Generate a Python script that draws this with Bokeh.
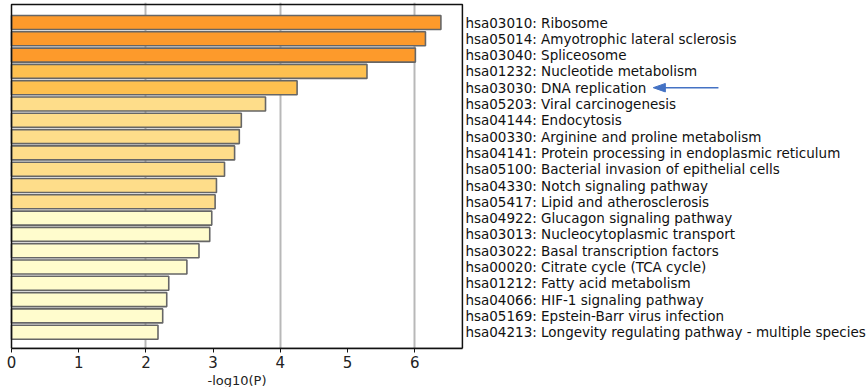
from bokeh.plotting import figure
from bokeh.models import Range1d, FixedTicker, ColumnDataSource, Title
from bokeh.core.properties import value
from bokeh.embed import file_html
from bokeh.resources import INLINE

terms = [
    "hsa03010: Ribosome",
    "hsa05014: Amyotrophic lateral sclerosis",
    "hsa03040: Spliceosome",
    "hsa01232: Nucleotide metabolism",
    "hsa03030: DNA replication",
    "hsa05203: Viral carcinogenesis",
    "hsa04144: Endocytosis",
    "hsa00330: Arginine and proline metabolism",
    "hsa04141: Protein processing in endoplasmic reticulum",
    "hsa05100: Bacterial invasion of epithelial cells",
    "hsa04330: Notch signaling pathway",
    "hsa05417: Lipid and atherosclerosis",
    "hsa04922: Glucagon signaling pathway",
    "hsa03013: Nucleocytoplasmic transport",
    "hsa03022: Basal transcription factors",
    "hsa00020: Citrate cycle (TCA cycle)",
    "hsa01212: Fatty acid metabolism",
    "hsa04066: HIF-1 signaling pathway",
    "hsa05169: Epstein-Barr virus infection",
    "hsa04213: Longevity regulating pathway - multiple species",
]
neg_log_p = [6.39, 6.16, 6.01, 5.29, 4.25, 3.78, 3.42, 3.39, 3.32, 3.17,
             3.05, 3.03, 2.98, 2.95, 2.79, 2.61, 2.34, 2.31, 2.25, 2.18]
color_group = [0, 0, 0, 1, 1, 2, 2, 2, 2, 2, 2, 2, 3, 3, 3, 3, 3, 3, 3, 3]
palette = ["#FD9A2B", "#FEC04F", "#FEDD8A", "#FFFCCD"]
x_ticks = [0, 1, 2, 3, 4, 5, 6]
grid_ticks = [2, 4, 6]
x_title = "-log10(P)"
highlight_term = "hsa03030: DNA replication"

X_MAX = 6.71          # right edge of the plotting box
n = len(terms)
Y_MAX = n + 1.1       # top edge of the plotting box
ypos = [n - i for i in range(n)]
src = ColumnDataSource(dict(
    y=ypos, right=neg_log_p, color=[palette[g] for g in color_group],
    label=terms, lx=[X_MAX] * n))

PX_X = 67.2
PX_Y = 16.3
FW, FH = 859, 346
x0 = -2 / PX_X
p = figure(frame_width=FW, frame_height=FH, output_backend="svg",
           toolbar_location=None,
           x_range=Range1d(x0, x0 + FW / PX_X), y_range=Range1d(0, FH / PX_Y),
           min_border_left=9, min_border_top=2, min_border_right=0,
           min_border_bottom=2)
p.background_fill_color = "white"
p.border_fill_color = "white"
p.outline_line_color = None
p.yaxis.visible = False
p.ygrid.visible = False

p.xgrid.ticker = FixedTicker(ticks=grid_ticks)
p.xgrid.grid_line_color = "#b8b8b8"
p.xgrid.grid_line_width = 2
p.xgrid.bounds = (0, X_MAX)

p.hbar(y="y", left=0, right="right", height=0.86, source=src,
       fill_color="color", line_color="#666666", line_width=1.6)

# plotting box
p.quad(left=[0], right=[X_MAX], bottom=[0], top=[Y_MAX],
       fill_color=None, line_color="#111111", line_width=1.5)

# term labels to the right of the box
p.text(x="lx", y="y", text="label", source=src, x_offset=3,
       text_align="left", text_baseline="middle",
       text_font=value("DejaVu Sans"), text_font_size="13.5px",
       text_color="#111111")

xa = p.xaxis[0]
xa.bounds = (0, X_MAX)
xa.ticker = FixedTicker(ticks=x_ticks)
xa.minor_tick_line_color = None
xa.major_tick_in = 0
xa.major_tick_out = 4
xa.major_tick_line_color = "#111111"
xa.axis_line_color = "#111111"
xa.axis_line_width = 1.5
xa.major_label_text_font = "DejaVu Sans"
xa.major_label_text_font_size = "15px"
xa.major_label_text_color = "#222222"
xa.major_label_standoff = 3

# axis title, centred under the plotting box
p.add_layout(Title(text=x_title, align="left", offset=198,
                   text_font="DejaVu Sans", text_font_size="13px",
                   text_font_style="normal", text_color="#222222",
                   standoff=0), "below")

# highlight arrow pointing at the DNA replication label
hy = ypos[terms.index(highlight_term)]
x_tail, x_tip, head_len, head_half = 10.52, 9.55, 0.18, 0.26
p.segment(x0=[x_tail], y0=[hy], x1=[x_tip + head_len * 0.8], y1=[hy],
          line_color="#4472C4", line_width=1.5)
p.patch(x=[x_tip, x_tip + head_len, x_tip + head_len],
        y=[hy, hy + head_half, hy - head_half],
        fill_color="#4472C4", line_color="#4472C4", line_width=1)

open("out.html", "w").write(file_html(p, INLINE))
